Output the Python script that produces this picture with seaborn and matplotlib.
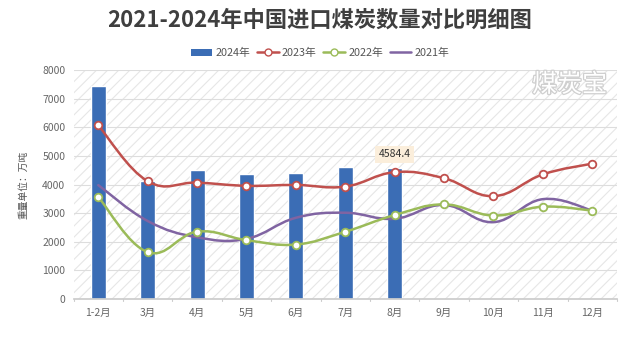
import numpy as np
import pandas as pd
import matplotlib
matplotlib.use("Agg")
import matplotlib.pyplot as plt
from matplotlib.path import Path
from matplotlib.patches import PathPatch, Rectangle, Patch
from matplotlib.lines import Line2D
import matplotlib.patheffects as pe
import seaborn as sns

months = ["1-2月", "3月", "4月", "5月", "6月", "7月", "8月", "9月", "10月", "11月", "12月"]
v2024 = [7452.2, 4126.1, 4498.9, 4382.2, 4408.1, 4611.3, 4584.4]
v2023 = [6063, 4116, 4068, 3956, 3986, 3929, 4432, 4221, 3594, 4355, 4731]
v2022 = [3564, 1642, 2355, 2059, 1906, 2352, 2935, 3307, 2918, 3227, 3091]
v2021 = [3980, 2727, 2160, 2105, 2840, 3016, 2805, 3288, 2687, 3490, 3095]
yticks = [0, 1000, 2000, 3000, 4000, 5000, 6000, 7000, 8000]
series_names = ["2024年", "2023年", "2022年", "2021年"]

sns.set_theme(style="white")
plt.rcParams['font.family'] = ['Noto Sans CJK SC', 'DejaVu Sans']
plt.rcParams['hatch.color'] = '#e6e6e6'
plt.rcParams['hatch.linewidth'] = 0.8

c_bar = "#3b6db5"
c23 = "#c0504d"
c22 = "#9bbb59"
c21 = "#8064a2"

fig = plt.figure(figsize=(6.4, 3.38), dpi=100)
ax = fig.add_axes([0.115, 0.115, 0.849, 0.678])

# hatched background
ax.add_patch(Rectangle((0, 0), 1, 1, transform=ax.transAxes, facecolor="white",
                       edgecolor="#e6e6e6", hatch="///", lw=0, zorder=0))

df = pd.DataFrame({"month": months[:len(v2024)], "value": v2024})
sns.barplot(data=df, x="month", y="value", order=months, color=c_bar,
            width=0.3, saturation=1, ax=ax, zorder=2)

def smooth_path(xs, ys, k=0.2):
    pts = np.column_stack([xs, ys]).astype(float)
    n = len(pts)
    verts = [pts[0]]
    codes = [Path.MOVETO]
    for i in range(n - 1):
        p0 = pts[i - 1] if i > 0 else pts[i]
        p1 = pts[i]
        p2 = pts[i + 1]
        p3 = pts[i + 2] if i + 2 < n else pts[i + 1]
        c1 = p1 + (p2 - p0) * k
        c2 = p2 - (p3 - p1) * k
        verts += [c1, c2, p2]
        codes += [Path.CURVE4] * 3
    return Path(verts, codes)

xs = np.arange(len(months))
for vals, col, mk in [(v2021, c21, False), (v2022, c22, True), (v2023, c23, True)]:
    ax.add_patch(PathPatch(smooth_path(xs, vals), facecolor="none", edgecolor=col,
                           lw=1.8, zorder=3, capstyle="round", joinstyle="round"))
    if mk:
        ax.scatter(xs, vals, s=30, facecolor="white", edgecolor=col, linewidth=1.3, zorder=4)

ax.set_xlim(-0.5, len(months) - 0.5)
ax.set_ylim(0, 8000)
ax.set_yticks(yticks)
ax.set_yticklabels([str(t) for t in yticks])
ax.set_xticks(xs)
ax.set_xticklabels(months)
ax.set_xlabel("")
ax.set_ylabel("重量单位：万吨", fontsize=7, color="#555555", labelpad=10)
ax.tick_params(axis="both", labelsize=7.5, colors="#666666", length=0, pad=6)
for t in ax.get_xticklabels() + ax.get_yticklabels():
    t.set_color("#666666")
ax.grid(axis="y", color="#dddddd", lw=0.8)
ax.set_axisbelow(True)
for s in ["top", "right", "left"]:
    ax.spines[s].set_visible(False)
ax.spines["bottom"].set_color("#cccccc")
# category boundary ticks
for b in np.arange(-0.5, len(months), 1.0):
    ax.plot([b, b], [0, -70], color="#cccccc", lw=0.8, clip_on=False, zorder=1)

# annotation
ax.text(6, 5050, "4584.4", ha="center", va="center", fontsize=7.5, color="#333333", zorder=6,
        bbox=dict(boxstyle="square,pad=0.35", facecolor="#fbeedb", edgecolor="none"))

# watermark
fig.text(0.89, 0.749, "煤炭宝", fontsize=18, color="white", ha="center", va="center",
         path_effects=[pe.withStroke(linewidth=1.8, foreground="#cfcfcf")], zorder=10)

fig.text(0.5, 0.94, "2021-2024年中国进口煤炭数量对比明细图", ha="center", va="center",
         fontsize=16, fontweight="bold", color="#3f3f3f")

handles = [
    Patch(facecolor=c_bar, edgecolor="none"),
    Line2D([], [], color=c23, lw=1.8, marker="o", markerfacecolor="white", markeredgecolor=c23, markersize=5),
    Line2D([], [], color=c22, lw=1.8, marker="o", markerfacecolor="white", markeredgecolor=c22, markersize=5),
    Line2D([], [], color=c21, lw=1.8),
]
fig.legend(handles, series_names, loc="center", bbox_to_anchor=(0.5, 0.843), ncol=4, frameon=False,
           fontsize=7.8, handlelength=2.0, handleheight=0.7, handletextpad=0.3, columnspacing=0.6,
           labelcolor="#555555")

fig.savefig("out.png", dpi=100)
